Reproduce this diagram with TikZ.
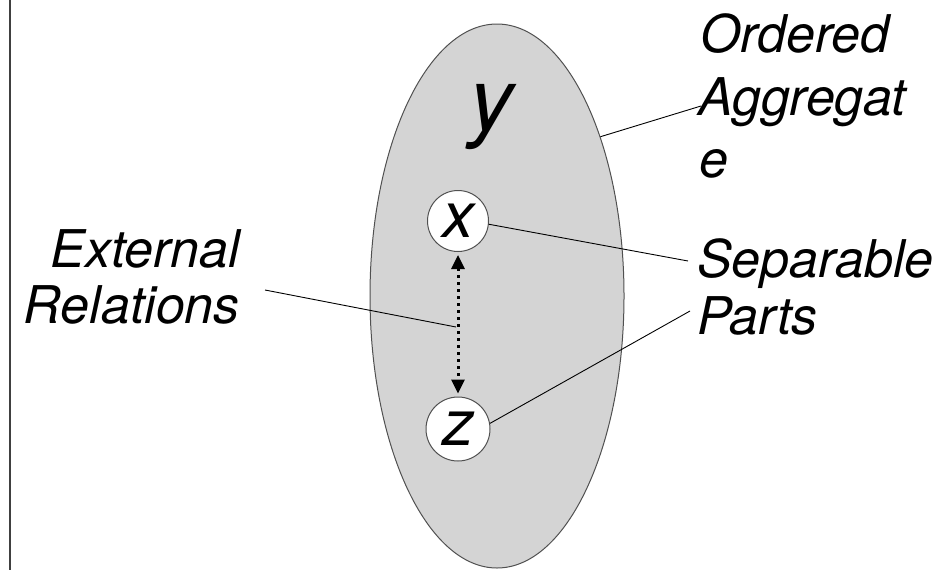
\documentclass[tikz,border=0pt]{standalone}
\usepackage{fontspec}
\setmainfont{TeX Gyre Heros}
\usetikzlibrary{shapes.geometric,arrows.meta}
\definecolor{aggfill}{HTML}{D4D4D4}
\definecolor{edgegray}{HTML}{505050}
\definecolor{framegray}{HTML}{404040}
\tikzset{
  aggshape/.style={ellipse, draw=edgegray, line width=1pt, fill=aggfill, inner sep=0pt, minimum width=254, minimum height=544},
  partnode/.style={circle, draw=edgegray, line width=1pt, fill=white, inner sep=0pt, minimum size=61, font=\fontsize{64}{64}\selectfont\itshape},
  lbl/.style={inner sep=0pt, font=\fontsize{52}{60}\selectfont\itshape},
  leader/.style={draw=black, line width=0.9pt},
  relarrow/.style={line width=3pt, dash pattern=on 3pt off 4pt, {Triangle[width=13pt,length=14pt]}-{Triangle[width=13pt,length=14pt]}, shorten <=3pt, shorten >=3pt}
}
\begin{document}
\begin{tikzpicture}[x=1pt,y=-1pt]
\useasboundingbox (0,0) rectangle (952,570);
\draw[framegray, line width=2.5pt] (10,0) -- (10,570);
\node[aggshape] (agg) at (497,296) {};
\node[inner sep=0pt, anchor=base, font=\fontsize{88}{88}\selectfont\itshape] (ylab) at (491,130) {y};
\node[partnode] (x) at (458,221) {x};
\node[partnode, minimum size=64] (z) at (458,429) {z};
\draw[relarrow] (x) -- (z);
% labels
\node[lbl, anchor=base west] (ord1) at (700,52) {Ordered};
\node[lbl, anchor=base west] (ord2) at (698,115) {Aggregat};
\node[lbl, anchor=base west] (ord3) at (699,177) {e};
\node[lbl, anchor=base west] (sep1) at (697,277) {Separable};
\node[lbl, anchor=base west] (sep2) at (697,334) {Parts};
\node[lbl, anchor=base east] (ext1) at (240,267) {External};
\node[lbl, anchor=base east] (ext2) at (240,323) {Relations};
% leader end points
\coordinate (oaend) at (701,106);
\coordinate (spend) at (688,261);
\coordinate (ppend) at (690,311);
\coordinate (erstart) at (265,290);
\coordinate (erend) at (456,327);
\draw[leader] (agg.57) -- (oaend);
\draw[leader] (x.-6) -- (spend);
\draw[leader] (z.10) -- (ppend);
\draw[leader] (erstart) -- (erend);
\end{tikzpicture}
\end{document}
